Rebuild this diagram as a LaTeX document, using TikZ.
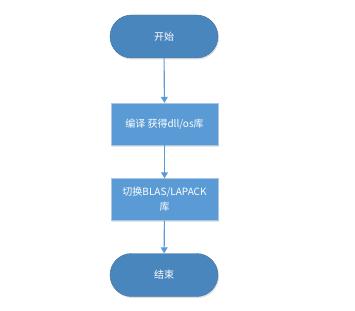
\documentclass[tikz,border=0pt]{standalone}
\usepackage{fontspec}
\setmainfont{Noto Sans CJK SC}
\usetikzlibrary{arrows.meta,shadows}
\definecolor{termfill}{HTML}{4A86BE}
\definecolor{termline}{HTML}{41719C}
\definecolor{procfill}{HTML}{5B9BD5}
\definecolor{procline}{HTML}{A9C6E6}
\definecolor{arr}{HTML}{5B9BD5}
\tikzset{
  term/.style={draw=termline, fill=termfill, rounded corners=21.5pt, minimum width=108pt, minimum height=43pt, text=white, font=\fontsize{10pt}{12pt}\selectfont, inner sep=0pt, drop shadow={shadow xshift=1pt, shadow yshift=-1.5pt, opacity=0.25}},
  proc/.style={draw=procline, fill=procfill, minimum width=107pt, minimum height=42pt, text=white, font=\fontsize{10pt}{15pt}\selectfont, inner sep=2pt, align=center, drop shadow={shadow xshift=1pt, shadow yshift=-1.5pt, opacity=0.2}},
  flow/.style={draw=arr, line width=1.1pt, -{Triangle[length=6pt,width=7pt]}}
}
\begin{document}
\begin{tikzpicture}[x=1pt,y=-1pt]
\useasboundingbox (0,0) rectangle (355,310);
\node[term] (start) at (164,36.5) {开始};
\node[proc] (p1) at (164.5,124) {编译 获得dll/os库};
\node[proc, text width=100pt] (p2) at (164.5,199.5) {切换BLAS/LAPACK\\库};
\node[term] (end) at (164,275) {结束};
\draw[flow] (start) -- (p1);
\draw[flow] (p1) -- (p2);
\draw[flow] (p2) -- (end);
\end{tikzpicture}
\end{document}
